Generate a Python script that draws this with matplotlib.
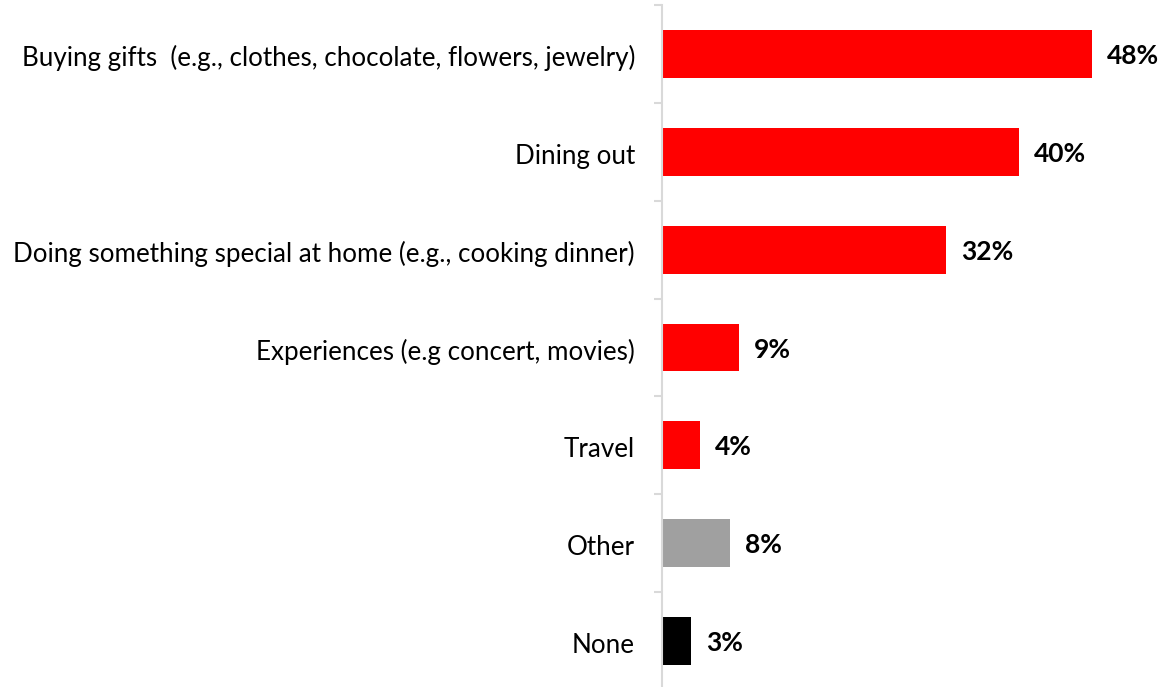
import matplotlib
matplotlib.use("Agg")
import matplotlib.pyplot as plt
from matplotlib.transforms import ScaledTranslation

categories = [
    "Buying gifts  (e.g., clothes, chocolate, flowers, jewelry)",
    "Dining out",
    "Doing something special at home (e.g., cooking dinner)",
    "Experiences (e.g concert, movies)",
    "Travel",
    "Other",
    "None",
]
values = [48.0, 39.8, 31.7, 8.6, 4.2, 7.6, 3.2]
labels = ["48%", "40%", "32%", "9%", "4%", "8%", "3%"]
colors = ["#ff0000", "#ff0000", "#ff0000", "#ff0000", "#ff0000", "#a0a0a0", "#000000"]

plt.rcParams['font.family'] = ['Lato', 'DejaVu Sans']

W, H = 1163, 687
fig = plt.figure(figsize=(W / 100, H / 100), dpi=100)
x0, x1 = 662, 1092
top, bot = 5, 690
ax = fig.add_axes([x0 / W, (H - bot) / H, (W - x0) / W, (bot - top) / H])

ypos = list(range(len(categories)))
ax.barh(ypos, values, height=0.49, color=colors, zorder=2)
ax.set_ylim(len(categories) - 0.5, -0.5)
xmax = 48.0 * (W - x0) / (x1 - x0)
ax.set_xlim(0, xmax)

for y, v, lab in zip(ypos, values, labels):
    ax.annotate(lab, (v, y), xytext=(15 * 0.72, -2 * 0.72), textcoords='offset points',
                va='center', ha='left', fontsize=19, fontweight='bold', color='#000000')

ax.set_yticks(ypos)
ax.set_yticklabels(categories, fontsize=18.7, color='#000000')
ax.set_yticks([i - 0.5 for i in range(len(categories) + 1)], minor=True)
ax.tick_params(axis='y', which='major', length=0, pad=19.5)
ax.tick_params(axis='y', which='minor', length=6, width=1.5, color='#d9d9d9')
shift = ScaledTranslation(0, -2 / 100, fig.dpi_scale_trans)
for t in ax.get_yticklabels():
    t.set_transform(t.get_transform() + shift)
ax.set_xticks([])
for s in ['top', 'right', 'bottom']:
    ax.spines[s].set_visible(False)
ax.spines['left'].set_color('#d9d9d9')
ax.spines['left'].set_linewidth(1.5)
ax.patch.set_alpha(0)

fig.savefig("out.png", dpi=100)
